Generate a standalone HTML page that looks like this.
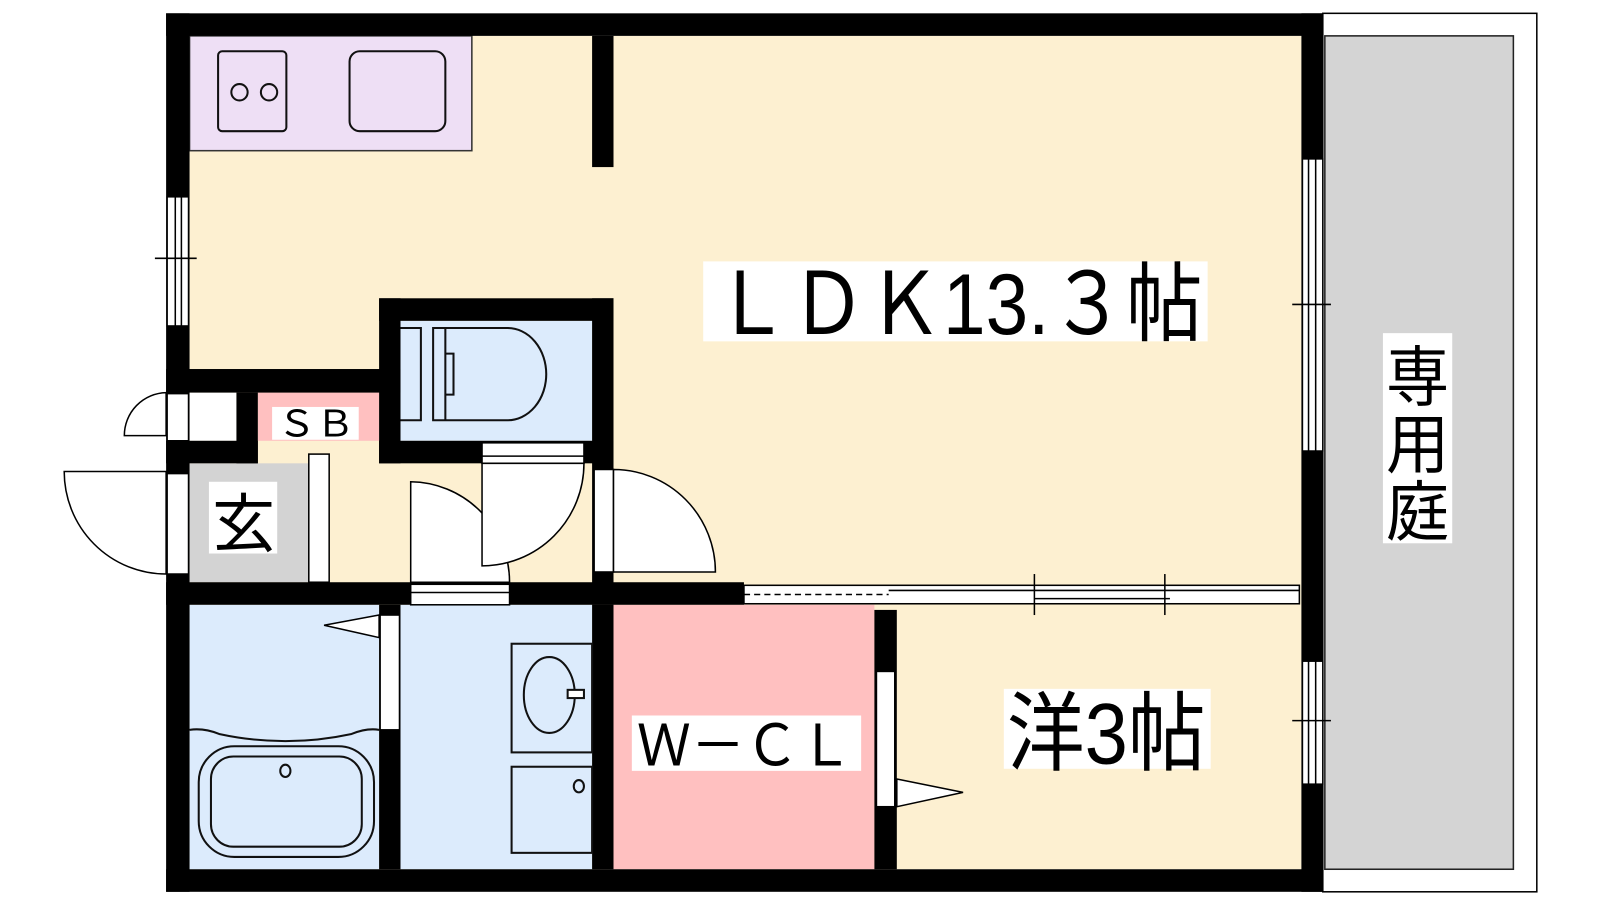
<!DOCTYPE html>
<html><head><meta charset="utf-8"><style>
html,body{margin:0;padding:0;background:#fff;width:1600px;height:900px;overflow:hidden}
svg{display:block}
text{font-family:"Liberation Sans","Noto Sans CJK JP",sans-serif;fill:#000}
</style></head><body>
<svg width="1600" height="900" viewBox="0 0 1570 878" preserveAspectRatio="none" xmlns="http://www.w3.org/2000/svg">
<rect width="1600" height="900" fill="#fff"/>
<rect x="1298" y="13" width="210" height="857" fill="#fff" stroke="#000" stroke-width="1.5"/>
<rect x="1300" y="35" width="185" height="813" fill="#d4d4d4" stroke="#222" stroke-width="1.5"/>
<rect x="186" y="35" width="1091" height="813" fill="#fdf0d1"/>
<rect x="186" y="35" width="277" height="112" fill="#eedff5" stroke="#333" stroke-width="1.5"/>
<rect x="393" y="313" width="188" height="117" fill="#dcebfc"/>
<rect x="253" y="383" width="119" height="47" fill="#ffc0c0"/>
<rect x="186" y="383" width="46" height="47" fill="#fff"/>
<rect x="186" y="452" width="117" height="116" fill="#d3d3d3"/>
<rect x="186" y="590" width="186" height="258" fill="#dcebfc"/>
<rect x="393" y="590" width="188" height="258" fill="#dcebfc"/>
<rect x="602" y="590" width="256" height="258" fill="#ffc0c0"/>
<g fill="#000">
<rect x="163" y="13" width="1135" height="22"/>
<rect x="163" y="848" width="1135" height="22"/>
<rect x="163" y="13" width="23" height="857"/>
<rect x="1277" y="13" width="21" height="857"/>
<rect x="581" y="35" width="21" height="128"/>
<rect x="372" y="291" width="230" height="22"/>
<rect x="372" y="291" width="21" height="161"/>
<rect x="581" y="291" width="21" height="299"/>
<rect x="372" y="430" width="230" height="22"/>
<rect x="163" y="360" width="230" height="23"/>
<rect x="232" y="383" width="21" height="69"/>
<rect x="163" y="430" width="90" height="22"/>
<rect x="163" y="568" width="567" height="22"/>
<rect x="372" y="590" width="21" height="258"/>
<rect x="581" y="590" width="21" height="258"/>
<rect x="858" y="595" width="22" height="253"/>
</g>
<g fill="#fff" stroke="#000" stroke-width="1.5">
<rect x="164" y="192" width="21" height="126"/>
<rect x="164" y="384" width="21" height="46"/>
<rect x="164" y="462" width="21" height="98"/>
<rect x="1278" y="155" width="20" height="285"/>
<rect x="1278" y="645" width="20" height="120"/>
<rect x="473" y="432" width="100" height="20"/>
<rect x="403" y="570" width="97" height="20"/>
<rect x="583" y="458" width="19" height="100"/>
<rect x="303" y="443" width="20" height="125"/>
<rect x="373" y="600" width="19" height="112"/>
<rect x="860" y="655" width="18" height="132"/>
<rect x="730" y="571" width="545" height="18"/>
</g>
<g stroke="#000" stroke-width="1.5" fill="none">
<line x1="172" y1="192" x2="172" y2="318"/><line x1="178" y1="192" x2="178" y2="318"/>
<line x1="152" y1="252" x2="193" y2="252"/>
<line x1="1284" y1="155" x2="1284" y2="440"/><line x1="1291" y1="155" x2="1291" y2="440"/>
<line x1="1268" y1="297" x2="1306" y2="297"/>
<line x1="1284" y1="645" x2="1284" y2="765"/><line x1="1291" y1="645" x2="1291" y2="765"/>
<line x1="1268" y1="703" x2="1306" y2="703"/>
<line x1="730" y1="580" x2="872" y2="580" stroke-dasharray="6,4"/>
<line x1="872" y1="576" x2="1275" y2="576"/><line x1="1015" y1="584" x2="1148" y2="584"/>
<line x1="1015" y1="560" x2="1015" y2="600"/><line x1="1143" y1="560" x2="1143" y2="600"/>
<line x1="473" y1="445" x2="573" y2="445"/>
<line x1="403" y1="578" x2="500" y2="578"/>
</g>
<g stroke="#000" stroke-width="1.5" fill="#fff">
<path d="M63,460 L163,460 L163,560 A100,100 0 0 1 63,460 Z"/>
<path d="M122,425 L163,425 L163,383 A42,42 0 0 0 122,425 Z"/>
<path d="M403,568 L403,470 A98,98 0 0 1 500,568 Z"/>
<path d="M473,452 L473,552 A100,100 0 0 0 573,452 Z"/>
<path d="M602,558 L602,458 A100,100 0 0 1 702,558 Z"/>
<path d="M372,600 L318,610 L372,622 Z"/>
<path d="M880,760 L945,773 L880,787 Z"/>
</g>
<g stroke="#111" stroke-width="2" fill="none">
<rect x="214" y="50" width="67" height="78" rx="4"/>
<circle cx="235" cy="90" r="8"/><circle cx="264" cy="90" r="8"/>
<rect x="343" y="50" width="94" height="78" rx="10"/>
<path d="M393,320 H413 V410 H393"/>
<path d="M425,320 H498 A38,45 0 0 1 498,410 H425 Z"/>
<line x1="437" y1="320" x2="437" y2="410"/>
<path d="M437,345 H445 V385 H437"/>
<path d="M186,712 Q200,710 215,716 Q280,730 345,716 Q360,710 372,712"/>
<rect x="195" y="728" width="172" height="108" rx="35"/>
<rect x="207" y="738" width="148" height="88" rx="22"/>
<ellipse cx="280" cy="752" rx="5" ry="6"/>
<rect x="502" y="628" width="79" height="106"/>
<ellipse cx="539" cy="678" rx="25" ry="37"/>
<rect x="557" y="673" width="16" height="8" fill="#fff"/>
<rect x="502" y="748" width="79" height="84"/>
<ellipse cx="568" cy="767" rx="5" ry="6"/>
</g>
<rect x="690" y="255" width="495" height="78" fill="#fff"/>
<text x="700" y="326" font-size="84" textLength="480" lengthAdjust="spacingAndGlyphs">ＬＤＫ13.３帖</text>
<rect x="1357" y="325" width="68" height="205" fill="#fff"/>
<text x="1360" y="390" font-size="64" textLength="62" lengthAdjust="spacingAndGlyphs">専</text>
<text x="1360" y="456" font-size="64" textLength="62" lengthAdjust="spacingAndGlyphs">用</text>
<text x="1360" y="522" font-size="64" textLength="62" lengthAdjust="spacingAndGlyphs">庭</text>
<rect x="985" y="672" width="203" height="78" fill="#fff"/>
<text x="988" y="745" font-size="84" textLength="195" lengthAdjust="spacingAndGlyphs">洋3帖</text>
<rect x="620" y="698" width="225" height="54" fill="#fff"/>
<text x="625" y="747" font-size="56" textLength="212" lengthAdjust="spacingAndGlyphs">Ｗ－ＣＬ</text>
<rect x="267" y="397" width="85" height="32" fill="#fff"/>
<text x="272" y="426" font-size="36" textLength="76" lengthAdjust="spacingAndGlyphs">ＳＢ</text>
<rect x="205" y="470" width="67" height="70" fill="#fff"/>
<text x="208" y="533" font-size="62">玄</text>
</svg>
</body></html>
